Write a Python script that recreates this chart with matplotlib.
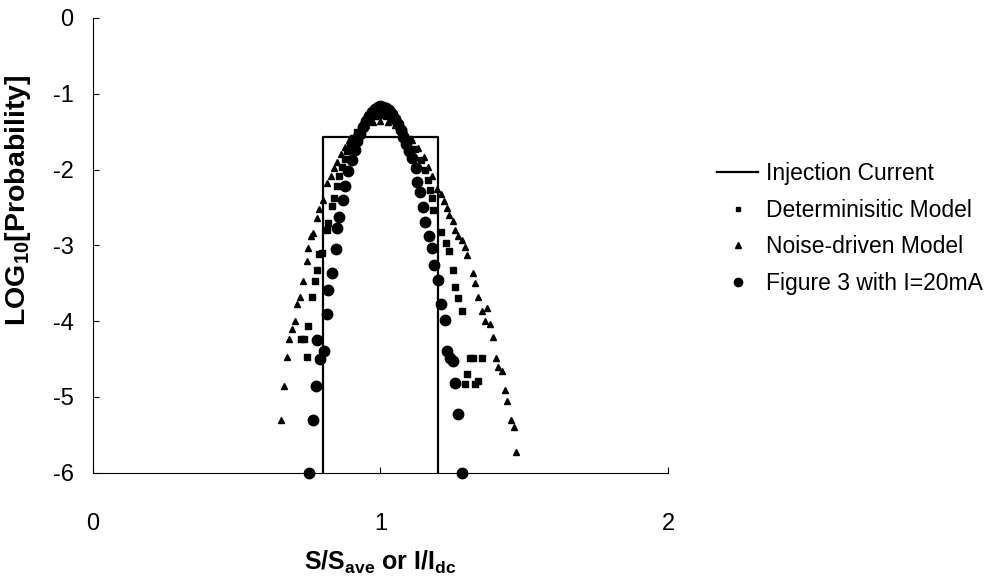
import matplotlib
matplotlib.use("Agg")
import matplotlib.pyplot as plt

plt.rcParams["font.family"] = ["Liberation Sans", "DejaVu Sans"]
plt.rcParams["mathtext.fontset"] = "custom"
plt.rcParams["mathtext.rm"] = "Liberation Sans:bold"
plt.rcParams["mathtext.bf"] = "Liberation Sans:bold"
plt.rcParams["mathtext.default"] = "bf"

# Injection current: uniform distribution between 0.8 and 1.2
inj_x = [0.8, 0.8, 1.2, 1.2]
inj_y = [-6.0, -1.57, -1.57, -6.0]

# Deterministic model
det_x = [0.722, 0.734, 0.744, 0.748, 0.762, 0.772, 0.779, 0.786, 0.796, 0.814,
         0.818, 0.831, 0.838, 0.849, 0.856, 0.865, 0.875, 0.885, 0.895, 0.905,
         0.92, 0.94, 0.96, 0.98, 1.00, 1.02, 1.04, 1.06, 1.08, 1.10,
         1.12, 1.14, 1.155, 1.165, 1.172, 1.179, 1.183, 1.210, 1.228, 1.238,
         1.252, 1.259, 1.270, 1.283, 1.294, 1.301, 1.311, 1.322, 1.329, 1.339,
         1.353]
det_y = [-4.23, -4.23, -4.47, -4.07, -3.68, -3.47, -3.33, -3.12, -3.10, -2.80,
         -2.71, -2.48, -2.38, -2.22, -2.09, -1.97, -1.86, -1.76, -1.67, -1.59,
         -1.50, -1.41, -1.34, -1.30, -1.28, -1.29, -1.33, -1.40, -1.49, -1.60,
         -1.73, -1.87, -2.01, -2.14, -2.27, -2.38, -2.54, -2.83, -2.97, -3.08,
         -3.33, -3.55, -3.70, -3.87, -4.83, -4.70, -4.49, -4.48, -4.83, -4.79,
         -4.48]

# Noise-driven model
noise_x = [0.654, 0.664, 0.675, 0.682, 0.692, 0.703, 0.710, 0.720, 0.731, 0.744,
           0.748, 0.758, 0.765, 0.779, 0.786, 0.800, 0.814, 0.828, 0.838, 0.849,
           0.862, 0.876, 0.892, 0.91, 0.93, 0.95, 0.975, 1.00, 1.025, 1.05,
           1.07, 1.09, 1.11, 1.13, 1.15, 1.165, 1.179, 1.197, 1.210, 1.221,
           1.231, 1.238, 1.252, 1.259, 1.270, 1.283, 1.294, 1.301, 1.322, 1.329,
           1.339, 1.353, 1.370, 1.363, 1.381, 1.391, 1.402, 1.409, 1.423, 1.433,
           1.440, 1.454, 1.464, 1.471]
noise_y = [-5.31, -4.85, -4.47, -4.24, -4.10, -4.00, -3.78, -3.68, -3.47, -3.20,
           -3.04, -2.88, -2.84, -2.64, -2.52, -2.40, -2.18, -2.09, -1.98, -1.90,
           -1.80, -1.70, -1.61, -1.53, -1.46, -1.41, -1.37, -1.36, -1.37, -1.41,
           -1.46, -1.53, -1.61, -1.71, -1.83, -1.96, -2.09, -2.25, -2.32, -2.42,
           -2.51, -2.60, -2.68, -2.80, -2.87, -2.93, -3.02, -3.13, -3.37, -3.49,
           -3.68, -3.86, -3.82, -4.00, -4.04, -4.21, -4.48, -4.61, -4.66, -4.91,
           -5.05, -5.30, -5.40, -5.72]

# Figure 3 data, I = 20 mA
fig3_x = [0.751, 0.765, 0.776, 0.780, 0.790, 0.803, 0.814, 0.818, 0.831, 0.845,
          0.849, 0.856, 0.870, 0.876, 0.887, 0.900, 0.911, 0.92, 0.93, 0.94,
          0.95, 0.96, 0.97, 0.98, 0.99, 1.00, 1.01, 1.02, 1.03, 1.04,
          1.05, 1.06, 1.07, 1.08, 1.09, 1.10, 1.110, 1.124, 1.127, 1.137,
          1.148, 1.155, 1.169, 1.179, 1.186, 1.200, 1.211, 1.224, 1.232, 1.242,
          1.252, 1.259, 1.270, 1.283]
fig3_y = [-6.0, -5.31, -4.86, -4.25, -4.50, -4.39, -3.91, -3.59, -3.37, -3.05,
          -2.77, -2.63, -2.40, -2.22, -2.02, -1.88, -1.74, -1.63, -1.53, -1.44,
          -1.36, -1.29, -1.24, -1.20, -1.17, -1.16, -1.17, -1.19, -1.22, -1.27,
          -1.33, -1.40, -1.48, -1.57, -1.66, -1.75, -1.85, -1.98, -2.16, -2.30,
          -2.49, -2.69, -2.87, -3.04, -3.26, -3.46, -3.77, -3.98, -4.39, -4.48,
          -4.53, -4.82, -5.22, -6.0]

x_ticks = [0, 1, 2]
y_ticks = [0, -1, -2, -3, -4, -5, -6]

fig = plt.figure(figsize=(10, 5.78), dpi=100)
ax = fig.add_axes([0.093, 0.182, 0.575, 0.787])

ax.plot(inj_x, inj_y, color="black", lw=1.6, label="Injection Current")
ax.plot(det_x, det_y, ls="none", marker="s", ms=4.2, color="black",
        label="Determinisitic Model", clip_on=False)
ax.plot(noise_x, noise_y, ls="none", marker="^", ms=4.8, color="black",
        label="Noise-driven Model", clip_on=False)
ax.plot(fig3_x, fig3_y, ls="none", marker="o", ms=7.5, color="black",
        label="Figure 3 with I=20mA", clip_on=False)

ax.set_xlim(0, 2)
ax.set_ylim(-6, 0)
ax.set_xticks(x_ticks)
ax.set_yticks(y_ticks)
ax.set_xticklabels([str(v) for v in x_ticks])
ax.set_yticklabels([str(v) for v in y_ticks])
ax.tick_params(axis="both", direction="in", length=4, width=0.8, labelsize=17)
ax.tick_params(axis="x", pad=29)
ax.tick_params(axis="y", pad=14)

for side in ["top", "right"]:
    ax.spines[side].set_visible(False)
for side in ["left", "bottom"]:
    ax.spines[side].set_linewidth(0.8)

ax.set_xlabel("S/S$_{ave}$ or I/I$_{dc}$", fontsize=18, fontweight="bold")
ax.set_ylabel("LOG$_{10}$[Probability]", fontsize=20.5, fontweight="bold")
ax.xaxis.set_label_coords(0.5, -0.166)
ax.yaxis.set_label_coords(-0.105, 0.6)

ax.legend(loc="upper left", bbox_to_anchor=(0.717, 0.72), bbox_transform=fig.transFigure,
          frameon=False, fontsize=16.5, handlelength=1.8, handletextpad=0.35,
          labelspacing=0.6, markerscale=0.8, borderaxespad=0, borderpad=0)

fig.savefig("out.png", dpi=100)
